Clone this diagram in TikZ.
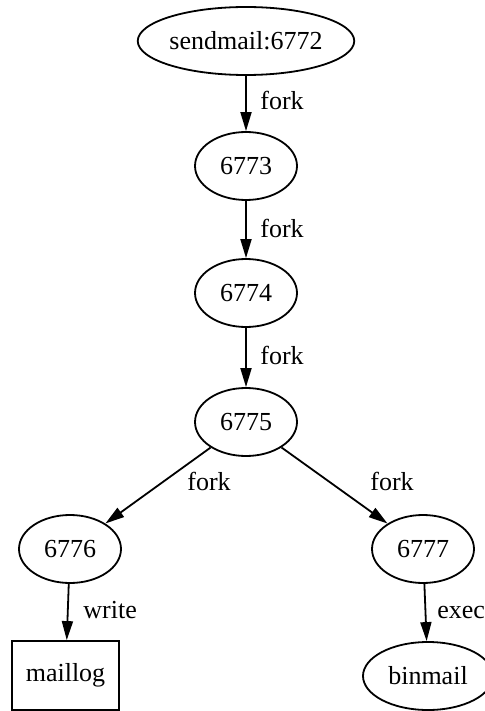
\documentclass[tikz,border=0pt]{standalone}
\usepackage{fontspec}
\setmainfont{Liberation Serif}
\usetikzlibrary{arrows.meta,shapes.geometric}
\begin{document}
\begin{tikzpicture}[x=0.5pt,y=-0.5pt,
  txt/.style={font=\fontsize{13}{15}\selectfont},
  proc/.style={txt,draw,ellipse,line width=0.9pt,inner sep=0pt,
    minimum width=51pt,minimum height=34pt},
  file/.style={txt,draw,rectangle,line width=0.9pt,inner sep=0pt,
    minimum width=53.5pt,minimum height=34.5pt},
  edgelbl/.style={txt,inner sep=0pt,anchor=base west},
  edge/.style={draw,line width=0.9pt,-{Triangle[length=9.5pt,width=5.5pt]}}
]
\useasboundingbox (0,0) rectangle (485,711);

% process tree
\node[proc,minimum width=102pt] (sm) at (246,41) {sendmail:6772};
\node[proc] (p3) at (246,166) {6773};
\node[proc] (p4) at (246,293) {6774};
\node[proc] (p5) at (246,422) {6775};
\node[proc] (p6) at (70,549) {6776};
\node[proc] (p7) at (423,549) {6777};
\node[file] (log) at (65.5,675.5) {maillog};
\node[proc,minimum width=65pt] (bin) at (428,676) {binmail};

% connectors
\draw[edge] (sm) -- (p3);
\draw[edge] (p3) -- (p4);
\draw[edge] (p4) -- (p5);
\draw[edge] (p5) -- (p6);
\draw[edge] (p5) -- (p7);
\draw[edge] (p6) -- (log);
\draw[edge] (p7) -- (bin);

% edge labels
\node[edgelbl] (l1) at (260,110) {fork};
\node[edgelbl] (l2) at (260,237) {fork};
\node[edgelbl] (l3) at (260,364) {fork};
\node[edgelbl] (l4) at (187,490) {fork};
\node[edgelbl] (l5) at (370,490) {fork};
\node[edgelbl] (l6) at (83,618) {write};
\node[edgelbl] (l7) at (437,618) {exec};
\end{tikzpicture}
\end{document}
